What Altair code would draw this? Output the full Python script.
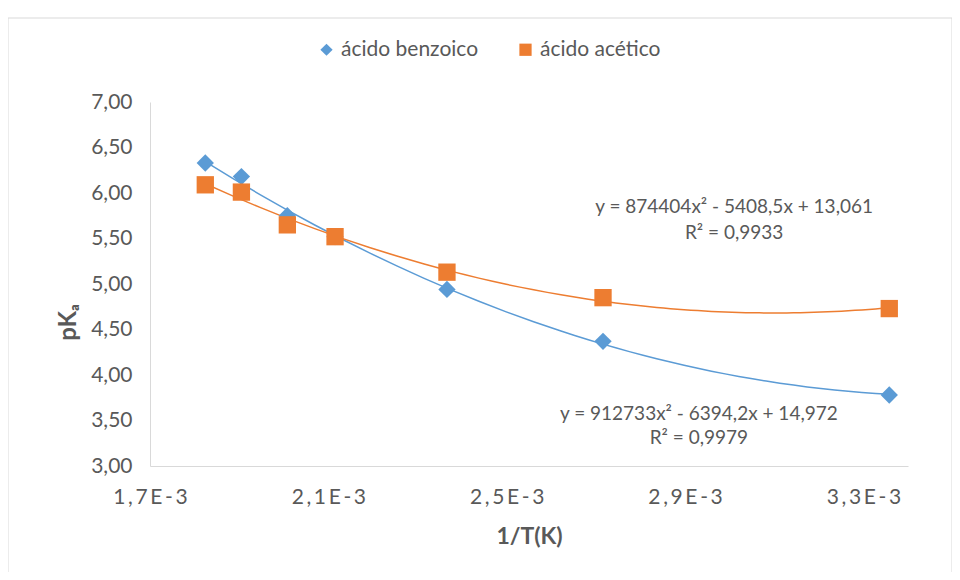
import altair as alt
import pandas as pd

# ---- data ----
inv_T = [1.824e-3, 1.905e-3, 2.008e-3, 2.115e-3, 2.366e-3, 2.716e-3, 3.358e-3]
pka_benzoico = [6.33, 6.18, 5.75, 5.52, 4.94, 4.37, 3.78]
pka_acetico = [6.09, 6.01, 5.65, 5.52, 5.13, 4.85, 4.73]
series_names = ["ácido benzoico", "ácido acético"]
series_colors = ["#5B9BD5", "#ED7D31"]
series_shapes = ["diamond", "square"]

x_ticks = [0.0017, 0.0021, 0.0025, 0.0029, 0.0033]
y_ticks = [3.0, 3.5, 4.0, 4.5, 5.0, 5.5, 6.0, 6.5, 7.0]

eq_texts = ["y = 874404x² - 5408,5x + 13,061", "R² = 0,9933",
            "y = 912733x² - 6394,2x + 14,972", "R² = 0,9979"]
eq_x = [3.010e-3, 3.010e-3, 2.931e-3, 2.931e-3]
eq_y = [5.846, 5.564, 3.571, 3.308]

FONT = "Lato"
TXT = "#595959"
AXC = "#D9D9D9"

rows = []
for name, vals in zip(series_names, [pka_benzoico, pka_acetico]):
    for xv, yv in zip(inv_T, vals):
        rows.append({"x": xv, "y": yv, "serie": name})
df = pd.DataFrame(rows)
eq_df = pd.DataFrame({"x": eq_x, "y": eq_y, "t": eq_texts})

xscale = alt.Scale(domain=[0.0017, 0.0034], nice=False, zero=False)
yscale = alt.Scale(domain=[3, 7], nice=False, zero=False)
cscale = alt.Scale(domain=series_names, range=series_colors)
sscale = alt.Scale(domain=series_names, range=series_shapes)

x_label_expr = ("join(split(replace(format(datum.value*1000, '.1f'), '.', ',') + 'E-3', ''), '\u2009')")

xaxis = alt.Axis(values=x_ticks, labelExpr=x_label_expr, title="1/T(K)",
                 grid=False, ticks=False, domainColor=AXC, labelColor=TXT,
                 labelFont=FONT, labelFontSize=21, labelPadding=20, labelFlush=False,
                 titleFont=FONT, titleFontSize=23, titleFontWeight="bold",
                 titleColor=TXT, titlePadding=18)
yaxis = alt.Axis(values=y_ticks, labelExpr="replace(format(datum.value, '.2f'), '.', ',')",
                 title="pKₐ", grid=False, ticks=False, domainColor=AXC, labelFlush=False,
                 labelColor=TXT, labelFont=FONT, labelFontSize=21, labelPadding=18,
                 titleFont=FONT, titleFontSize=24, titleFontWeight="bold",
                 titleColor=TXT, titleX=-82, titleY=220, titleAlign="center",
                 titleBaseline="middle", titleAngle=270)

legend = alt.Legend(orient="none", legendX=166, legendY=-63, direction="horizontal",
                    title=None, labelFont=FONT, labelFontSize=21, labelColor=TXT,
                    symbolSize=150, columnPadding=36, symbolStrokeWidth=0)

base = alt.Chart(df)

lines = base.transform_regression(
    "x", "y", method="poly", order=2, groupby=["serie"]
).mark_line(strokeWidth=1.5).encode(
    x=alt.X("x:Q", scale=xscale, axis=xaxis),
    y=alt.Y("y:Q", scale=yscale, axis=yaxis),
    color=alt.Color("serie:N", scale=cscale, legend=legend, sort=series_names),
    detail="serie:N",
)

points = base.mark_point(filled=True, opacity=1, size=300).encode(
    x=alt.X("x:Q", scale=xscale),
    y=alt.Y("y:Q", scale=yscale),
    color=alt.Color("serie:N", scale=cscale, legend=legend, sort=series_names),
    shape=alt.Shape("serie:N", scale=sscale, legend=legend, sort=series_names),
)

eqs = alt.Chart(eq_df).mark_text(font=FONT, fontSize=19, color=TXT, align="center",
                                 baseline="middle").encode(
    x=alt.X("x:Q", scale=xscale),
    y=alt.Y("y:Q", scale=yscale),
    text="t:N",
)

frame = alt.Chart(pd.DataFrame({"k": [0]})).mark_rect(
    fill="transparent", stroke=AXC, strokeWidth=1
).encode(
    x=alt.value(-142), x2=alt.value(802), y=alt.value(-84), y2=alt.value(476)
)

chart = alt.layer(frame, lines, points, eqs).properties(
    width=758, height=364,
    padding={"left": 142, "top": 94, "right": 44, "bottom": 106},
    autosize=alt.AutoSizeParams(type="none"),
    background="white",
).configure_view(stroke=None)

chart.save("out.html", embed_options={"renderer": "svg", "actions": False})
